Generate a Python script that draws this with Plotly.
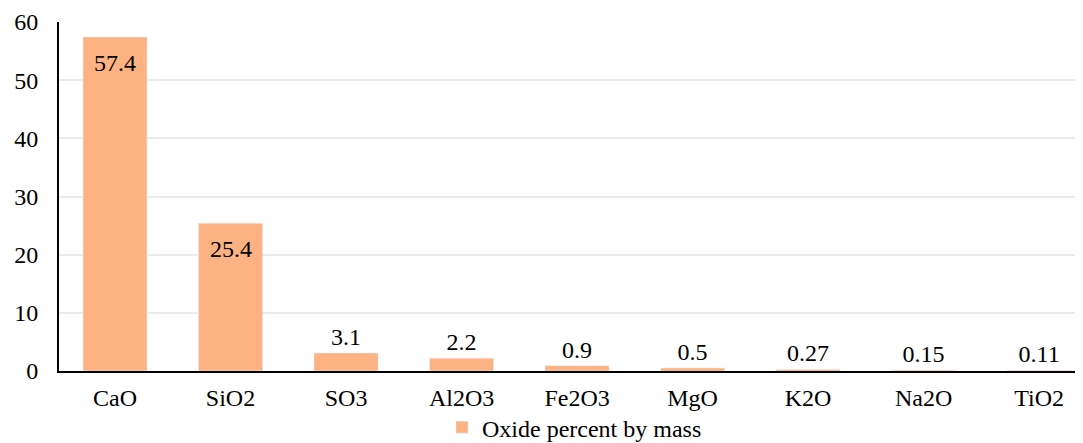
import plotly.graph_objects as go

categories = ["CaO", "SiO2", "SO3", "Al2O3", "Fe2O3", "MgO", "K2O", "Na2O", "TiO2"]
values = [57.4, 25.4, 3.1, 2.2, 0.9, 0.5, 0.27, 0.15, 0.11]
labels = ["57.4", "25.4", "3.1", "2.2", "0.9", "0.5", "0.27", "0.15", "0.11"]
series_name = "Oxide percent by mass"
y_ticks = [0, 10, 20, 30, 40, 50, 60]

FONT = "Liberation Serif"
inside = [v > 10 for v in values]
bar_text = ["" if ins else t for t, ins in zip(labels, inside)]

fig = go.Figure(go.Bar(
    x=categories, y=values, name=series_name,
    text=bar_text, textposition="outside",
    outsidetextfont=dict(family=FONT, size=24, color="black"),
    marker=dict(color="#FCB282"),
    cliponaxis=False,
    showlegend=True,
))

for c, v, t, ins in zip(categories, values, labels, inside):
    if ins:
        fig.add_annotation(x=c, y=v, text=t, showarrow=False, yanchor="middle",
                           yshift=-26, font=dict(family=FONT, size=24, color="black"))

fig.update_layout(
    width=1075, height=435,
    margin=dict(l=51, r=0, t=14, b=72, autoexpand=False),
    paper_bgcolor="white", plot_bgcolor="white",
    font=dict(family=FONT, size=24, color="black"),
    bargap=0.446,
    showlegend=True,
    legend=dict(orientation="h", x=0.374, xanchor="left", y=-0.162, yanchor="middle",
                font=dict(size=24), itemwidth=30, bgcolor="rgba(0,0,0,0)"),
)
fig.update_xaxes(range=[-0.485, 8.38], showline=True, linecolor="black", linewidth=2,
                 ticks="", tickfont=dict(size=24), showgrid=False, automargin=False,
                 ticklabelstandoff=4)
fig.update_yaxes(range=[0, 60], tickvals=y_ticks, showline=True, linecolor="black",
                 linewidth=2, showgrid=True, gridcolor="#EBEBEB", gridwidth=1.5,
                 ticks="", ticklen=0, tickfont=dict(size=24), zeroline=False,
                 automargin=False, ticklabelstandoff=14)

fig.write_html("out.html")
